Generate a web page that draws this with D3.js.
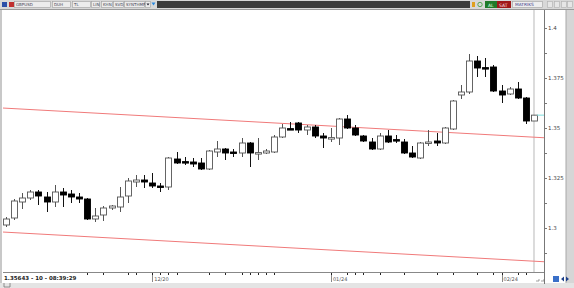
<!DOCTYPE html>
<html>
<head>
<meta charset="utf-8">
<script src="https://cdn.jsdelivr.net/npm/d3@7"></script>
<style>
  body { margin: 0; background: #fff; }
  svg { display: block; font-family: "DejaVu Sans", sans-serif; }
</style>
</head>
<body>
<div class="canvas"></div>
<script>
const WIDTH = 574,
  HEIGHT = 288,
  PLOT = { left: 3, right: 544, top: 10, bottom: 272, first: 6, last: 534 },
  CANDLE = { width: 6 };

// daily OHLC, GBPUSD
const opens = [
  1.3015, 1.305, 1.313, 1.315, 1.318, 1.3155, 1.313, 1.318, 1.317, 1.3155,
  1.3145, 1.3045, 1.3065, 1.31, 1.3105, 1.316, 1.323, 1.324, 1.3225, 1.321,
  1.3205, 1.3345, 1.3332, 1.333, 1.3325, 1.3295, 1.338, 1.3395, 1.338, 1.3375,
  1.3425, 1.3373, 1.3375, 1.338, 1.3455, 1.3497, 1.3525, 1.349, 1.3505, 1.346,
  1.3448, 1.345, 1.3545, 1.35, 1.346, 1.343, 1.3395, 1.346, 1.3442, 1.343,
  1.3375, 1.335, 1.3425, 1.3435, 1.3425, 1.3495, 1.3665, 1.368, 1.3835, 1.3802,
  1.3805, 1.3685, 1.367, 1.3695, 1.365, 1.3535,
];
const highs = [
  1.3055, 1.3145, 1.3175, 1.319, 1.319, 1.318, 1.3215, 1.32, 1.319, 1.3175,
  1.315, 1.31, 1.311, 1.3115, 1.3205, 1.325, 1.3265, 1.3265, 1.3275, 1.3225,
  1.3355, 1.338, 1.3355, 1.335, 1.335, 1.339, 1.3435, 1.34, 1.3395, 1.345,
  1.343, 1.345, 1.3395, 1.3465, 1.352, 1.353, 1.353, 1.3515, 1.3515, 1.3475,
  1.35, 1.355, 1.3565, 1.3515, 1.3465, 1.345, 1.3475, 1.349, 1.3465, 1.3445,
  1.341, 1.343, 1.349, 1.3475, 1.3505, 1.364, 1.3715, 1.387, 1.386, 1.385,
  1.3815, 1.3715, 1.3705, 1.373, 1.3655, 1.3565,
];
const lows = [
  1.3005, 1.304, 1.3095, 1.314, 1.3115, 1.308, 1.3105, 1.3105, 1.3125, 1.3125,
  1.304, 1.303, 1.3035, 1.309, 1.308, 1.3125, 1.3205, 1.32, 1.32, 1.318,
  1.319, 1.332, 1.3315, 1.3305, 1.329, 1.329, 1.3355, 1.334, 1.3355, 1.3355,
  1.3305, 1.334, 1.337, 1.3375, 1.345, 1.349, 1.3475, 1.3465, 1.345, 1.34,
  1.343, 1.3415, 1.3495, 1.346, 1.343, 1.339, 1.339, 1.3425, 1.3425, 1.337,
  1.335, 1.3345, 1.341, 1.341, 1.342, 1.349, 1.3645, 1.367, 1.3755, 1.3755,
  1.368, 1.3625, 1.3665, 1.3645, 1.352, 1.3535,
];
const closes = [
  1.3045, 1.3135, 1.315, 1.318, 1.316, 1.313, 1.318, 1.3165, 1.3155, 1.3145,
  1.3045, 1.306, 1.31, 1.311, 1.3155, 1.3235, 1.324, 1.323, 1.321, 1.3208,
  1.335, 1.3325, 1.3328, 1.332, 1.3295, 1.3385, 1.3395, 1.3375, 1.3375, 1.3425,
  1.3375, 1.3377, 1.3385, 1.3455, 1.35, 1.3494, 1.349, 1.3505, 1.346, 1.345,
  1.3452, 1.3545, 1.35, 1.3465, 1.3435, 1.3395, 1.346, 1.343, 1.3438, 1.3375,
  1.3355, 1.3425, 1.343, 1.3425, 1.35, 1.3635, 1.368, 1.3835, 1.38, 1.3798,
  1.3685, 1.3665, 1.3695, 1.365, 1.3535, 1.35643,
];

const priceDomain = [1.278, 1.409];
const priceLabels = [1.3, 1.325, 1.35, 1.375, 1.4];
const priceMinor = [1.2875, 1.3125, 1.3375, 1.3625, 1.3875];
const dateTicks = [
  10, 12, 15, 16, 18, 19, 20, 21, 25, 27, 29, 30, 31, 32, 33, 40, 42, 43, 44,
  46, 49, 53, 55, 58, 60, 61, 63, 64,
];
const dateLabelIndex = [18, 40, 61];
const dateLabels = ["12/20", "01/24", "02/24"];

// trend channel: [candle index, price] anchors
const channelUpper = [[0, 1.3599], [65, 1.3454]];
const channelLower = [[0, 1.2979], [65, 1.2834]];

const lastPrice = 1.35643;
const statusText = "1.35643 - 10 - 08:39:29";

const toolLeft = ["GBPUSD", "DUH", "TL", "LIN", "KHN", "SVD", "SYNTHMP"];

let svg, x, y, candles;

document.addEventListener("DOMContentLoaded", function () {
  setSVG();
  setScales();
  drawFrame();
  drawChannel();
  drawCandles();
  drawAxes();
  drawToolbar();
});

function setSVG() {
  svg = d3
    .select(".canvas")
    .append("svg")
    .attr("width", WIDTH)
    .attr("height", HEIGHT);
}

function setScales() {
  candles = opens.map((open, i) => ({
    i,
    open,
    high: highs[i],
    low: lows[i],
    close: closes[i],
  }));

  x = d3
    .scaleLinear()
    .domain([0, candles.length - 1])
    .range([PLOT.first, PLOT.last]);

  y = d3.scaleLinear().domain(priceDomain).range([PLOT.bottom, PLOT.top]);
}

function drawFrame() {
  svg.append("rect").attr("width", WIDTH).attr("height", HEIGHT).attr("fill", "#fff");

  // left border
  svg.append("rect").attr("x", 0).attr("y", 9).attr("width", 2).attr("height", 275).attr("fill", "#c8c8c8");
  // right panel edge
  svg.append("rect").attr("x", 566).attr("y", 9).attr("width", 8).attr("height", 279).attr("fill", "#d6d6d6");
  svg.append("line").attr("x1", 566).attr("x2", 566).attr("y1", 9).attr("y2", 284).attr("stroke", "#a8a8a8");
  // bottom strip
  svg.append("rect").attr("x", 0).attr("y", 283).attr("width", WIDTH).attr("height", 5).attr("fill", "#e4e4e4");
  svg.append("path").attr("d", "M4,283V287H10V283").attr("fill", "none").attr("stroke", "#777").attr("stroke-width", 0.8);

  // last candle marker line
  svg
    .append("line")
    .attr("x1", x(candles.length - 1))
    .attr("x2", x(candles.length - 1))
    .attr("y1", PLOT.top)
    .attr("y2", PLOT.bottom)
    .attr("stroke", "#c4c4c4")
    .attr("stroke-width", 1.2);
}

function channelPath(points) {
  const [[i0, p0], [i1, p1]] = points;
  const line = d3.scaleLinear().domain([i0, i1]).range([p0, p1]);
  const a = x.invert(PLOT.left),
    b = x.invert(PLOT.right);
  return d3.line()([
    [PLOT.left, y(line(a))],
    [PLOT.right, y(line(b))],
  ]);
}

function drawChannel() {
  [channelUpper, channelLower].forEach((points) => {
    svg
      .append("path")
      .attr("d", channelPath(points))
      .attr("fill", "none")
      .attr("stroke", "#f07a7a")
      .attr("stroke-width", 1);
  });
}

function drawCandles() {
  const g = svg
    .append("g")
    .selectAll("g")
    .data(candles)
    .enter()
    .append("g");

  g.append("line")
    .attr("x1", (d) => Math.round(x(d.i)) + 0.5)
    .attr("x2", (d) => Math.round(x(d.i)) + 0.5)
    .attr("y1", (d) => y(d.high))
    .attr("y2", (d) => y(d.low))
    .attr("stroke", (d) => (d.close >= d.open ? "#555" : "#111"))
    .attr("stroke-width", 1);

  g.append("rect")
    .attr("x", (d) => Math.round(x(d.i)) - CANDLE.width / 2 + 0.5)
    .attr("width", CANDLE.width)
    .attr("y", (d) => y(Math.max(d.open, d.close)))
    .attr("height", (d) => Math.max(1.5, Math.abs(y(d.open) - y(d.close))))
    .attr("fill", (d) => (d.close >= d.open ? "#fff" : "#000"))
    .attr("stroke", (d) => (d.close >= d.open ? "#555" : "#000"))
    .attr("stroke-width", 0.9);
}

function drawAxes() {
  // price axis
  const yAxis = svg.append("g");
  yAxis
    .append("line")
    .attr("x1", PLOT.right + 0.5)
    .attr("x2", PLOT.right + 0.5)
    .attr("y1", PLOT.top)
    .attr("y2", PLOT.bottom + 12)
    .attr("stroke", "#777");

  yAxis
    .selectAll(".minor")
    .data(priceMinor)
    .enter()
    .append("line")
    .attr("x1", PLOT.right)
    .attr("x2", PLOT.right + 3)
    .attr("y1", (d) => Math.round(y(d)) + 0.5)
    .attr("y2", (d) => Math.round(y(d)) + 0.5)
    .attr("stroke", "#777");

  const major = yAxis.selectAll(".major").data(priceLabels).enter().append("g");
  major
    .append("line")
    .attr("x1", PLOT.right)
    .attr("x2", PLOT.right + 3)
    .attr("y1", (d) => Math.round(y(d)) + 0.5)
    .attr("y2", (d) => Math.round(y(d)) + 0.5)
    .attr("stroke", "#777");
  major
    .append("text")
    .attr("x", PLOT.right + 4)
    .attr("y", (d) => y(d) + 2)
    .attr("font-size", 5.5)
    .attr("fill", "#444")
    .text((d) => d);

  // current price marker
  svg
    .append("line")
    .attr("x1", x(candles.length - 1) + 3)
    .attr("x2", PLOT.right)
    .attr("y1", y(lastPrice))
    .attr("y2", y(lastPrice))
    .attr("stroke", "#7fdede");

  // date axis
  const xAxis = svg.append("g");
  xAxis
    .append("line")
    .attr("x1", PLOT.left)
    .attr("x2", PLOT.right)
    .attr("y1", PLOT.bottom + 0.5)
    .attr("y2", PLOT.bottom + 0.5)
    .attr("stroke", "#888");

  xAxis
    .selectAll(".tick")
    .data(dateTicks)
    .enter()
    .append("line")
    .attr("x1", (d) => Math.round(x(d)) + 0.5)
    .attr("x2", (d) => Math.round(x(d)) + 0.5)
    .attr("y1", PLOT.bottom + 1)
    .attr("y2", PLOT.bottom + 3)
    .attr("stroke", "#222");

  const labels = xAxis.selectAll(".lbl").data(dateLabelIndex).enter().append("g");
  labels
    .append("line")
    .attr("x1", (d) => Math.round(x(d)) + 0.5)
    .attr("x2", (d) => Math.round(x(d)) + 0.5)
    .attr("y1", PLOT.bottom + 3)
    .attr("y2", PLOT.bottom + 10)
    .attr("stroke", "#888");
  labels
    .append("text")
    .attr("x", (d) => x(d) + 2)
    .attr("y", PLOT.bottom + 9)
    .attr("font-size", 5)
    .attr("fill", "#555")
    .text((d, i) => dateLabels[i]);

  svg
    .append("text")
    .attr("x", 4)
    .attr("y", PLOT.bottom + 8)
    .attr("font-size", 5.5)
    .attr("font-weight", "bold")
    .attr("fill", "#222")
    .text(statusText);

  // navigation icons bottom right
  svg.append("rect").attr("x", 553).attr("y", 276).attr("width", 6).attr("height", 6).attr("fill", "#3a6fc8");
  svg.append("path").attr("d", "M561,279l3,-2.5v5z M569,279l-3,-2.5v5z").attr("fill", "#1d3f8a");
  svg.append("path").attr("d", "M536,281h3v-2 M541,281h3v-2").attr("fill", "none").attr("stroke", "#777").attr("stroke-width", 0.7);
}

function drawToolbar() {
  const bar = svg.append("g");
  bar.append("rect").attr("width", WIDTH).attr("height", 9).attr("fill", "#d8d8d8");
  bar.append("line").attr("x1", 0).attr("x2", WIDTH).attr("y1", 9.5).attr("y2", 9.5).attr("stroke", "#9a9a9a");
  bar.append("rect").attr("x", 157).attr("y", 1).attr("width", 313).attr("height", 7).attr("fill", "#3c3c3c");

  bar.append("rect").attr("x", 2).attr("y", 2).attr("width", 5).attr("height", 5).attr("fill", "#2b4fa8");
  bar.append("rect").attr("x", 9).attr("y", 2).attr("width", 5).attr("height", 5).attr("fill", "#c03030");

  const boxes = [
    [14, 36],
    [52, 18],
    [72, 18],
    [91, 8],
    [101, 11],
    [113, 10],
    [124, 20],
  ];
  boxes.forEach(([bx, bw], i) => {
    bar.append("rect").attr("x", bx + 0.5).attr("y", 1.5).attr("width", bw).attr("height", 6)
      .attr("fill", "#ececec").attr("stroke", "#a0a0a0").attr("stroke-width", 0.6);
    bar.append("text").attr("x", bx + 2).attr("y", 6.3).attr("font-size", 4).attr("fill", "#445")
      .text(toolLeft[i]);
  });
  bar.append("rect").attr("x", 145.5).attr("y", 1.5).attr("width", 5).attr("height", 6).attr("fill", "#ececec").attr("stroke", "#a0a0a0").attr("stroke-width", 0.6);
  bar.append("path").attr("d", "M146.5,3.5h3l-1.5,2z").attr("fill", "#223");
  bar.append("path").attr("d", "M151.5,2.5l2,3l2,-3z").attr("fill", "#2a8ae0");

  // right hand buttons
  bar.append("rect").attr("x", 472).attr("y", 2).attr("width", 3).attr("height", 5).attr("fill", "#e0a020");
  bar.append("circle").attr("cx", 480).attr("cy", 4.5).attr("r", 2.2).attr("fill", "none").attr("stroke", "#3a9a3a").attr("stroke-width", 0.8);
  bar.append("rect").attr("x", 485).attr("y", 1).attr("width", 12).attr("height", 7).attr("fill", "#1f7a2a");
  bar.append("text").attr("x", 488).attr("y", 6.5).attr("font-size", 4.5).attr("fill", "#e0ffe0").text("AL");
  bar.append("rect").attr("x", 497).attr("y", 1).attr("width", 14).attr("height", 7).attr("fill", "#a01818");
  bar.append("text").attr("x", 499).attr("y", 6.5).attr("font-size", 4.5).attr("fill", "#ffe0e0").text("SAT");
  bar.append("rect").attr("x", 512.5).attr("y", 1.5).attr("width", 30).attr("height", 6).attr("fill", "#eeeeee").attr("stroke", "#a0a0a0").attr("stroke-width", 0.6);
  bar.append("text").attr("x", 515).attr("y", 6.3).attr("font-size", 4.3).attr("fill", "#3a3a8a").text("MATRIKS");
  [547, 554, 561, 567].forEach((bx) => {
    bar.append("rect").attr("x", bx + 0.5).attr("y", 1.5).attr("width", 5).attr("height", 6).attr("fill", "#e6e6e6").attr("stroke", "#b0b0b0").attr("stroke-width", 0.6);
  });
}
</script>
</body>
</html>
